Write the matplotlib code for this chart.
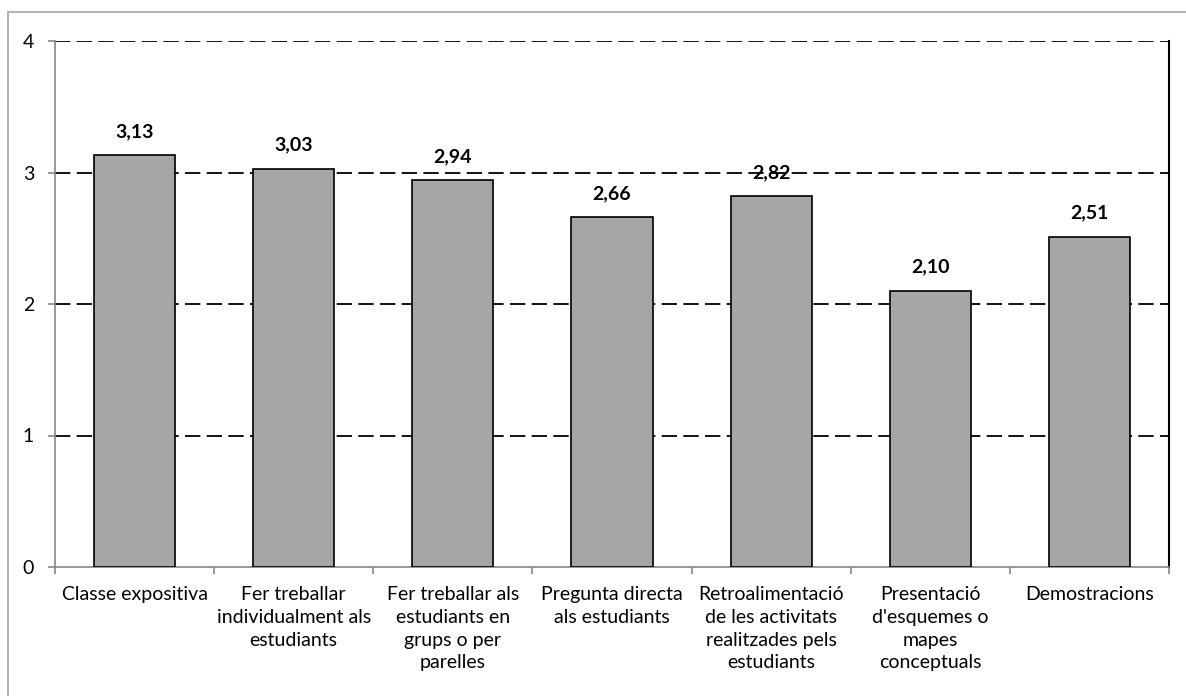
import matplotlib.pyplot as plt
from matplotlib.patches import Rectangle

categories = [
    "Classe expositiva",
    "Fer treballar\nindividualment als\nestudiants",
    "Fer treballar als\nestudiants en\ngrups o per\nparelles",
    "Pregunta directa\nals estudiants",
    "Retroalimentació\nde les activitats\nrealitzades pels\nestudiants",
    "Presentació\nd'esquemes o\nmapes\nconceptuals",
    "Demostracions",
]
values = [3.13, 3.03, 2.94, 2.66, 2.82, 2.10, 2.51]
yticks = [0, 1, 2, 3, 4]

plt.rcParams['font.family'] = ['Lato', 'DejaVu Sans']

fig = plt.figure(figsize=(11.86, 6.96), dpi=100)
ax = fig.add_axes([55 / 1186, 1 - 567 / 696, (1169 - 55) / 1186, (567 - 41) / 696])

# light outer border of the chart area
fig.patches.append(Rectangle((8 / 1186, -0.1), 1.2, 1 - 12 / 696 + 0.1,
                             transform=fig.transFigure, fill=False,
                             edgecolor="#A6A6A6", linewidth=1.2))

x = list(range(len(values)))
ax.bar(x, values, width=0.51, color="#A6A6A6", edgecolor="black", linewidth=1.2, zorder=3)

for xi, v in zip(x, values):
    ax.annotate(f"{v:.2f}".replace(".", ","), (xi, v), xytext=(0, 11),
                textcoords="offset points", ha="center", va="bottom",
                fontsize=14, fontweight="bold", zorder=4)

ax.set_xlim(-0.5, len(values) - 0.5)
ax.set_ylim(0, 4)
ax.set_yticks(yticks)
ax.set_yticklabels([str(t) for t in yticks], fontsize=14)
for t in yticks[1:]:
    ax.axhline(t, color="black", linestyle=(0, (8.5, 3.5)), linewidth=1.3, zorder=2)

ax.set_xticks([i + 0.5 for i in range(-1, len(values))], minor=False)
ax.set_xticklabels([])
ax.set_xticks(x, minor=True)
ax.set_xticklabels(categories, minor=True, fontsize=14, linespacing=1.4, va="top")
ax.tick_params(axis="x", which="minor", length=0, pad=14)
ax.tick_params(axis="x", which="major", length=5, color="#868686", width=1.2)
ax.tick_params(axis="y", length=5, color="#868686", width=1.2, pad=10)

ax.spines["left"].set_color("#868686")
ax.spines["bottom"].set_color("#868686")
ax.spines["left"].set_linewidth(1.2)
ax.spines["bottom"].set_linewidth(1.2)
ax.spines["right"].set_color("black")
ax.spines["right"].set_linewidth(1.5)
ax.spines["top"].set_visible(False)

fig.savefig("out.png", dpi=100)
